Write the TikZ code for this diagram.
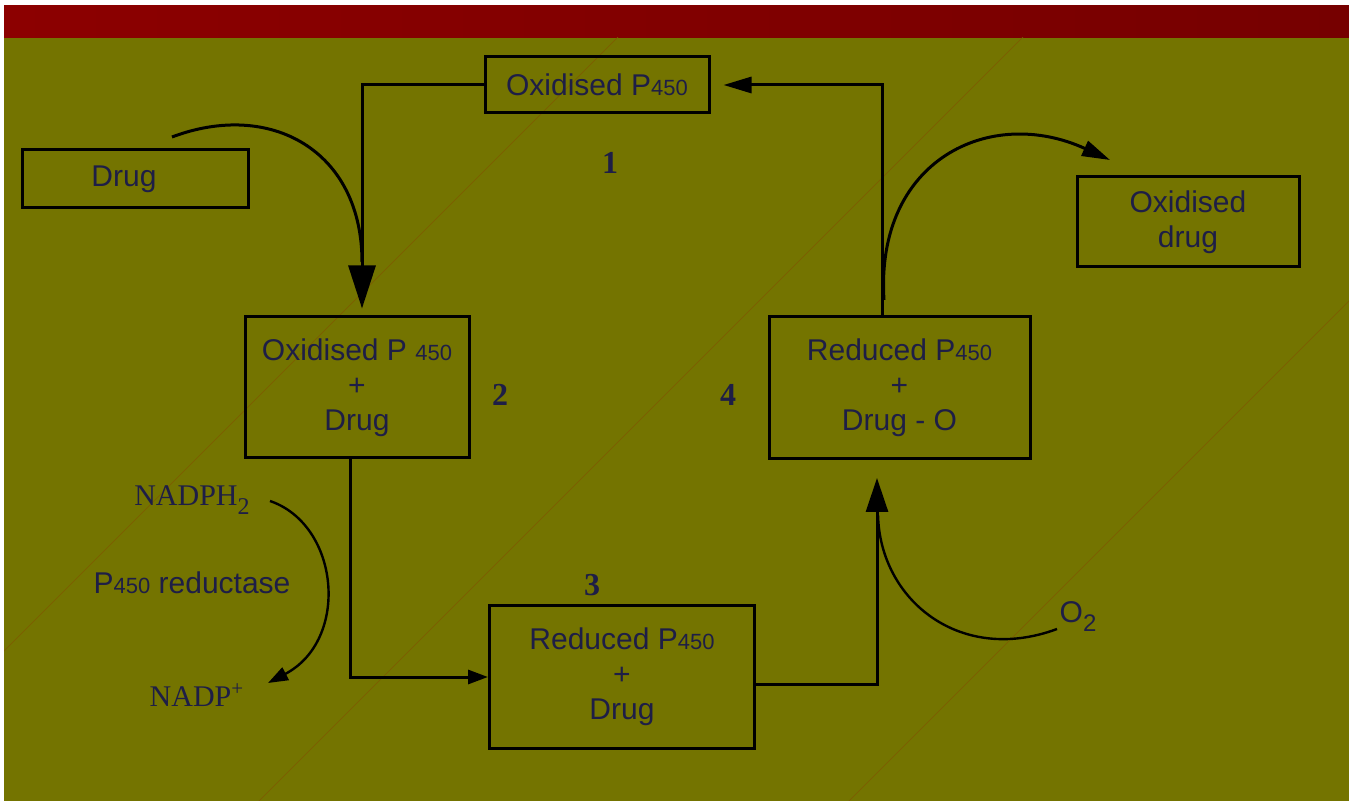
\documentclass[tikz,border=0pt]{standalone}
\usepackage{fontspec}
\setmainfont{Liberation Sans}
\newfontfamily\seriffont{Liberation Serif}
\usetikzlibrary{arrows.meta,calc}
\definecolor{olivebg}{RGB}{116,116,0}
\definecolor{barL}{RGB}{140,0,0}
\definecolor{barR}{RGB}{118,0,0}
\definecolor{txt}{RGB}{30,30,70}
\definecolor{diag}{RGB}{128,90,0}
\newcommand\pff{P{\fontsize{11}{11}\selectfont 450}}
\newcommand\lowtwo{\raisebox{-4.5pt}{\fontsize{12}{12}\selectfont 2}}
\begin{document}
\begin{tikzpicture}[x=0.5pt,y=-0.5pt,
  box/.style={draw=black,line width=1.5pt,inner sep=0pt,align=center,text=txt,font=\fontsize{15}{17.5}\selectfont},
  conn/.style={draw=black,line width=1.5pt},
  thin conn/.style={draw=black,line width=1.2pt},
  num/.style={font=\seriffont\bfseries\fontsize{16}{16}\selectfont,text=txt,inner sep=0pt},
  lbl/.style={text=txt,font=\fontsize{15}{17.5}\selectfont,inner sep=0pt},
  slbl/.style={text=txt,font=\seriffont\fontsize{15}{17.5}\selectfont,inner sep=0pt}
]
\useasboundingbox (0,0) rectangle (1349,801);
\fill[white] (0,0) rectangle (1349,801);
\fill[olivebg] (4,38) rectangle (1349,801);
\shade[left color=barL,right color=barR] (4,6) rectangle (1349,38);
\begin{scope}
  \clip (4,38) rectangle (1349,801);
  \draw[diag,line width=0.3pt] (0,655) -- (655,0);
  \draw[diag,line width=0.3pt] (0,1060) -- (1060,0);
  \draw[diag,line width=0.3pt] (0,1650) -- (1650,0);
\end{scope}

% boxes
\node[box,minimum width=112pt,minimum height=28pt] (ox1) at (597,85) {Oxidised \pff};
\node[box,minimum width=113pt,minimum height=29pt] (drug) at (135,179) {Drug\hspace*{11pt}};
\node[box,minimum width=112pt,minimum height=70.5pt] (ox2) at (357,387.5) {Oxidised P {\fontsize{11}{11}\selectfont 450}\\+\\Drug};
\node[box,minimum width=130.5pt,minimum height=71pt] (red4) at (899.5,387.5) {Reduced \pff\\+\\Drug - O};
\node[box,minimum width=111pt,minimum height=45pt] (oxd) at (1188,222) {Oxidised\\drug};
\node[box,minimum width=132.5pt,minimum height=71pt] (red3) at (622,677) {Reduced \pff\\+\\Drug};

% numbers
\node[num] (n1) at (610,163) {1};
\node[num] (n2) at (500,395) {2};
\node[num] (n3) at (592,585) {3};
\node[num] (n4) at (728,395) {4};

% side labels
\node[slbl] (nadph) at (192,500) {NADPH\lowtwo};
\node[lbl] (red) at (192,583) {\pff\ reductase};
\node[slbl] (nadp) at (197,695) {NADP\textsuperscript{+}};
\node[lbl] (o2) at (1078,617) {O\lowtwo};

% free ends
\coordinate (drugstart) at (172,137);
\coordinate (drugjoin) at (362,262);
\coordinate (c4start) at (884,300);
\coordinate (oxtip) at (1110,160);
\coordinate (o2start) at (1057,629);
\coordinate (o2join) at (878,515);
\coordinate (nadstart) at (270,501);
\coordinate (nadtip) at (268,683);

% connectors
\draw[conn,-{Triangle[length=21.5pt,width=13.5pt]},shorten >=3.5pt] (ox1.west) -| ([xshift=2.5pt]ox2.north);
\draw[conn] (drugstart) .. controls (270,100) and (362,150) .. (drugjoin);
\draw[conn,-{Triangle[length=10pt,width=7pt]}] ([xshift=-3.5pt]ox2.south) |- (red3.west);
\draw[conn,-{Triangle[length=17pt,width=11pt]},shorten >=9pt] ([yshift=-3.5pt]red3.east) -| ([xshift=-11.25pt]red4.south);
\draw[conn,-{Triangle[length=14pt,width=8pt]},shorten >=6.5pt] ([xshift=-8.75pt]red4.north) |- (ox1.east);
\draw[conn,-{Triangle[length=14pt,width=8pt]}] (c4start) .. controls (875,160) and (990,105) .. (oxtip);
\draw[thin conn] (o2start) .. controls (960,665) and (880,600) .. (o2join);
\draw[thin conn,-{Triangle[length=10pt,width=7pt]}] (nadstart) .. controls (340,525) and (350,640) .. (nadtip);
\end{tikzpicture}
\end{document}
